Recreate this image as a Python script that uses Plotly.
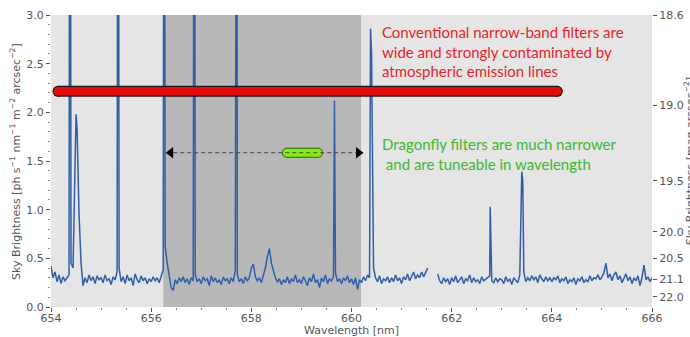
import numpy as np
import plotly.graph_objects as go

# ---------------- data ----------------
wl_start, wl_step = 654.0, 0.04
flux_cont = [
    0.42, 0.30, 0.36, 0.26, 0.33, 0.24, 0.31, 0.27, 0.30, 0.33, 0.45, 0.40, 1.60, 1.85, 0.95, 0.45, 0.22, 0.30, 0.25, 0.33, 0.27, 0.31, 0.24, 0.32, 0.28,
    0.30, 0.25, 0.33, 0.27, 0.29, 0.23, 0.31, 0.28, 0.36, 0.40, 0.26, 0.31, 0.24, 0.33, 0.27, 0.30, 0.22, 0.34, 0.28, 0.25, 0.32, 0.27, 0.30, 0.24, 0.29,
    0.26, 0.31, 0.27, 0.30, 0.25, 0.32, 0.38, 0.62, 0.45, 0.30, 0.20, 0.17, 0.28, 0.24, 0.30, 0.26, 0.31, 0.25, 0.29, 0.23, 0.30, 0.27, 0.33, 0.26, 0.29,
    0.24, 0.31, 0.27, 0.29, 0.22, 0.32, 0.26, 0.30, 0.25, 0.28, 0.23, 0.31, 0.27, 0.29, 0.24, 0.30, 0.26, 0.38, 0.33, 0.26, 0.29, 0.24, 0.31, 0.27, 0.30,
    0.40, 0.44, 0.31, 0.27, 0.30, 0.25, 0.33, 0.40, 0.52, 0.60, 0.45, 0.36, 0.30, 0.26, 0.29, 0.23, 0.28, 0.25, 0.31, 0.24, 0.29, 0.26, 0.33, 0.25, 0.28,
    0.24, 0.31, 0.27, 0.22, 0.30, 0.26, 0.34, 0.25, 0.28, 0.20, 0.30, 0.26, 0.33, 0.24, 0.29, 0.27, 0.31, 0.35, 0.26, 0.29, 0.24, 0.30, 0.27, 0.32, 0.25,
    0.29, 0.23, 0.30, 0.18, 0.28, 0.25, 0.31, 0.27, 0.33, 0.30, 2.60, 0.40, 0.30, 0.26, 0.32, 0.24, 0.29, 0.27, 0.31, 0.25, 0.30, 0.26, 0.33, 0.27, 0.30,
    0.24, 0.31, 0.28, 0.34, 0.27, 0.32, 0.36, 0.29, 0.33, 0.30, 0.36, 0.31, 0.35, 0.40, None, None, None, None, 0.34, 0.27, 0.24, 0.30, 0.26, 0.29, 0.23,
    0.30, 0.26, 0.32, 0.25, 0.28, 0.31, 0.24, 0.29, 0.27, 0.33, 0.25, 0.30, 0.26, 0.28, 0.24, 0.31, 0.27, 0.29, 0.30, 0.32, 0.27, 0.25, 0.30, 0.26, 0.29,
    0.28, 0.24, 0.31, 0.26, 0.29, 0.23, 0.30, 0.27, 0.25, 0.33, 1.39, 0.36, 0.26, 0.30, 0.27, 0.32, 0.28, 0.31, 0.25, 0.33, 0.29, 0.26, 0.31, 0.27, 0.30,
    0.26, 0.30, 0.28, 0.32, 0.25, 0.29, 0.27, 0.31, 0.24, 0.28, 0.26, 0.30, 0.23, 0.29, 0.27, 0.31, 0.25, 0.28, 0.26, 0.32, 0.27, 0.30, 0.29, 0.33, 0.28,
    0.31, 0.35, 0.45, 0.30, 0.34, 0.27, 0.33, 0.36, 0.28, 0.32, 0.25, 0.30, 0.34, 0.27, 0.31, 0.24, 0.30, 0.27, 0.32, 0.22, 0.30, 0.43, 0.28, 0.31, 0.26,
    0.30,
]
# narrow emission lines (wavelength nm, peak flux)
line_wl = [654.38, 654.50, 655.34, 656.26, 656.86, 657.71, 659.66, 660.38, 662.77, 663.42]
line_peak = [8.0, 1.98, 8.0, 8.0, 8.0, 8.0, 2.12, 2.86, 1.03, 1.30]

# filter bands
dragonfly_band = [656.24, 660.19]           # dark shaded band
conv_filter_wl = [654.14, 664.11]           # red bar
conv_filter_y = [2.216, 2.216]
df_filter_wl = [658.71, 659.33]             # green bar
df_filter_y = [1.585, 1.585]
arrow_wl = [656.30, 660.23]
arrow_y = [1.585, 1.585]

# axes
x_ticks = [654, 656, 658, 660, 662, 664, 666]
y_ticks = [0.0, 0.5, 1.0, 1.5, 2.0, 2.5, 3.0]
mag_labels = ["18.6", "19.0", "19.5", "20.0", "20.5", "21.1", "22.0"]
mag_flux_pos = [3.0, 2.075, 1.298, 0.774, 0.500, 0.284, 0.105]

red_text = "Conventional narrow-band filters are<br>wide and strongly contaminated by<br>atmospheric emission lines"
green_text = "Dragonfly filters are much narrower<br> and are tuneable in wavelength"

# ---------------- build spectrum ----------------
wl_cont = wl_start + wl_step * np.arange(len(flux_cont))
wl_all = list(wl_cont) + line_wl
fl_all = list(flux_cont) + line_peak
order = np.argsort(wl_all, kind="stable")
wl_all = [wl_all[i] for i in order]
fl_all = [fl_all[i] for i in order]

GRAY = "#555555"
TICKFONT = dict(family="DejaVu Sans", size=11, color=GRAY)

fig = go.Figure()

fig.add_trace(go.Scatter(x=wl_all, y=fl_all, mode="lines", connectgaps=False,
                         line=dict(color="#2f5fa8", width=1.5), showlegend=False))

# red conventional filter capsule
fig.add_trace(go.Scatter(x=conv_filter_wl, y=conv_filter_y, mode="lines+markers",
                         line=dict(color="#1a1a1a", width=11),
                         marker=dict(size=11, color="#1a1a1a", line=dict(width=0)),
                         showlegend=False))
fig.add_trace(go.Scatter(x=conv_filter_wl, y=conv_filter_y, mode="lines+markers",
                         line=dict(color="#e8090b", width=8.6),
                         marker=dict(size=8.6, color="#e8090b", line=dict(width=0)),
                         showlegend=False))

# green dragonfly capsule
fig.add_trace(go.Scatter(x=df_filter_wl, y=df_filter_y, mode="lines+markers",
                         line=dict(color="#3a5a10", width=10),
                         marker=dict(size=10, color="#3a5a10", line=dict(width=0)),
                         showlegend=False))
fig.add_trace(go.Scatter(x=df_filter_wl, y=df_filter_y, mode="lines+markers",
                         line=dict(color="#7ef00a", width=8),
                         marker=dict(size=8, color="#7ef00a", line=dict(width=0)),
                         showlegend=False))

# dashed double arrow
fig.add_trace(go.Scatter(x=arrow_wl, y=arrow_y, mode="lines",
                         line=dict(color="#444444", width=1, dash="4px,3px"),
                         showlegend=False))
fig.add_trace(go.Scatter(x=[arrow_wl[0] + 0.09, arrow_wl[1] - 0.09], y=arrow_y, mode="markers",
                         marker=dict(symbol=["triangle-left", "triangle-right"], size=10,
                                     color="black", line=dict(width=0)),
                         showlegend=False))

# secondary axis holder
fig.add_trace(go.Scatter(x=[None], y=[None], yaxis="y2", showlegend=False))

fig.add_shape(type="rect", xref="x", yref="paper", x0=dragonfly_band[0], x1=dragonfly_band[1],
              y0=0, y1=1, fillcolor="#b8b8b8", line=dict(width=0), layer="below")

fig.add_annotation(x=660.57, y=2.63, xref="x", yref="y", text=red_text, showarrow=False,
                   xanchor="left", yanchor="middle", align="left",
                   font=dict(family="Lato", size=15, color="#e5242b"))
fig.add_annotation(x=660.57, y=1.57, xref="x", yref="y", text=green_text, showarrow=False,
                   xanchor="left", yanchor="middle", align="left",
                   font=dict(family="Lato", size=15, color="#3cb82c"))

# axis titles
fig.add_annotation(x=-0.06, y=0.5, xref="paper", yref="paper", textangle=-90,
                   text="Sky Brightness [ph s<sup>−1</sup> nm<sup>−1</sup> m<sup>−2</sup> arcsec<sup>−2</sup>]",
                   showarrow=False, xanchor="center", yanchor="middle",
                   font=dict(family="DejaVu Sans", size=11, color=GRAY))
fig.add_annotation(x=1.062, y=0.5, xref="paper", yref="paper", textangle=-90,
                   text="Sky Brightness [mag arcsec<sup>−2</sup>]",
                   showarrow=False, xanchor="center", yanchor="middle",
                   font=dict(family="DejaVu Sans", size=11, color=GRAY))
fig.add_annotation(x=0.5, y=-0.082, xref="paper", yref="paper", text="Wavelength [nm]",
                   showarrow=False, xanchor="center", yanchor="middle",
                   font=dict(family="DejaVu Sans", size=11, color=GRAY))

fig.update_layout(
    width=690, height=337, autosize=False,
    margin=dict(l=51, r=38, t=15, b=30),
    paper_bgcolor="white", plot_bgcolor="#e5e5e5",
    showlegend=False,
    xaxis=dict(range=[654, 666], tickvals=x_ticks, ticks="outside", ticklen=4, tickcolor=GRAY,
               tickfont=TICKFONT, showgrid=False, zeroline=False, showline=False,
               ticklabelstandoff=-3,
               minor=dict(dtick=0.5, ticks="outside", ticklen=2, tickcolor="#888888"),
               automargin=False),
    yaxis=dict(range=[0, 3], tickvals=y_ticks, tickformat=".1f", ticks="outside", ticklen=4,
               tickcolor=GRAY, tickfont=TICKFONT, showgrid=False, zeroline=False, showline=False,
               minor=dict(dtick=0.1, ticks="outside", ticklen=2, tickcolor="#888888"),
               automargin=False),
    yaxis2=dict(range=[0, 3], overlaying="y", side="right", tickvals=mag_flux_pos,
                ticktext=mag_labels, ticks="outside", ticklen=4, tickcolor=GRAY,
                tickfont=TICKFONT, showgrid=False, zeroline=False, showline=False,
                automargin=False),
)

fig.write_html("out.html", config={"displayModeBar": False},
               post_script="document.body.style.margin='0';document.body.style.overflow='hidden';")
